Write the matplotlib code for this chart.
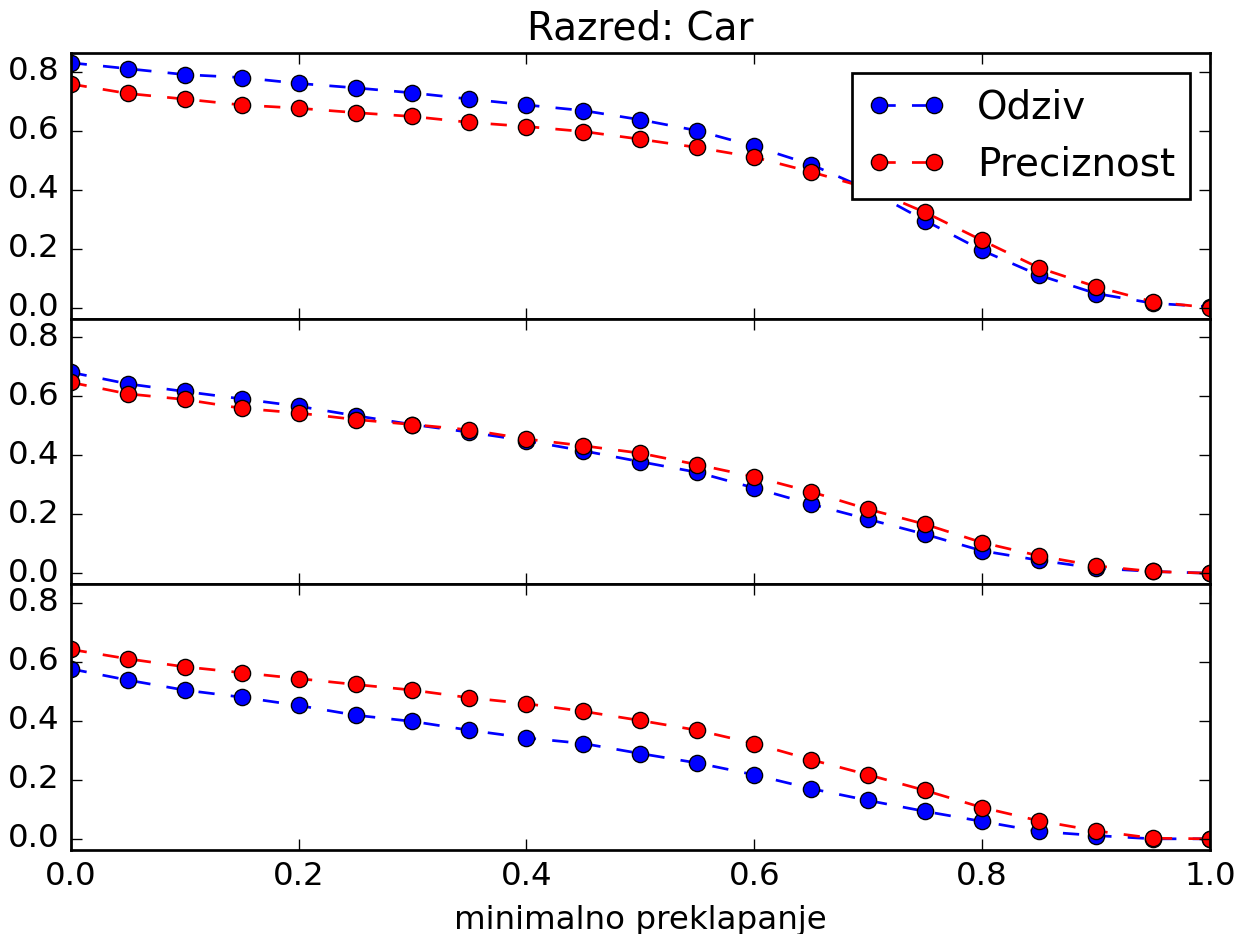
import numpy as np
import matplotlib
matplotlib.use("Agg")
import matplotlib.pyplot as plt

plt.style.use("classic")

# minimal overlap thresholds (x axis)
overlap = [0.0, 0.05, 0.1, 0.15, 0.2, 0.25, 0.3, 0.35, 0.4, 0.45, 0.5,
           0.55, 0.6, 0.65, 0.7, 0.75, 0.8, 0.85, 0.9, 0.95, 1.0]

# panel 1
recall_1 = [0.83, 0.81, 0.79, 0.78, 0.76, 0.745, 0.728, 0.707, 0.687, 0.668, 0.637,
            0.60, 0.547, 0.485, 0.40, 0.295, 0.194, 0.11, 0.048, 0.015, 0.003]
precision_1 = [0.758, 0.726, 0.707, 0.687, 0.676, 0.661, 0.648, 0.628, 0.614, 0.597, 0.571,
               0.543, 0.51, 0.46, 0.405, 0.323, 0.228, 0.135, 0.071, 0.02, 0.0]

# panel 2
recall_2 = [0.681, 0.642, 0.616, 0.591, 0.566, 0.534, 0.504, 0.478, 0.449, 0.415, 0.378,
            0.342, 0.289, 0.234, 0.183, 0.132, 0.076, 0.044, 0.017, 0.006, 0.0]
precision_2 = [0.647, 0.608, 0.589, 0.559, 0.543, 0.521, 0.504, 0.486, 0.455, 0.432, 0.407,
               0.368, 0.327, 0.276, 0.217, 0.166, 0.104, 0.059, 0.025, 0.006, 0.0]

# panel 3
recall_3 = [0.576, 0.538, 0.504, 0.48, 0.452, 0.419, 0.398, 0.368, 0.342, 0.323, 0.289,
            0.257, 0.217, 0.17, 0.13, 0.093, 0.059, 0.025, 0.011, 0.0, 0.0]
precision_3 = [0.642, 0.61, 0.583, 0.563, 0.543, 0.523, 0.504, 0.478, 0.458, 0.432, 0.401,
               0.368, 0.323, 0.268, 0.217, 0.164, 0.106, 0.061, 0.027, 0.002, 0.0]

recalls = [recall_1, recall_2, recall_3]
precisions = [precision_1, precision_2, precision_3]

DPI = 194.8
fig, axes = plt.subplots(3, 1, sharex=True, figsize=(1247 / DPI, 934 / DPI), dpi=DPI)

for i, ax in enumerate(axes):
    ax.plot(overlap, recalls[i], "b--o", label="Odziv")
    ax.plot(overlap, precisions[i], "r--o", label="Preciznost")
    ax.set_ylim(-0.038, 0.862)
    ax.set_xlim(0.0, 1.0)
    ax.set_yticks([0.0, 0.2, 0.4, 0.6, 0.8])

axes[0].set_title("Razred: Car")
axes[0].legend(loc="upper right")
axes[-1].set_xlabel("minimalno preklapanje")

fig.subplots_adjust(left=0.0567, right=0.9703, top=0.9429, bottom=0.0899, hspace=0)
fig.savefig("out.png", dpi=DPI)
